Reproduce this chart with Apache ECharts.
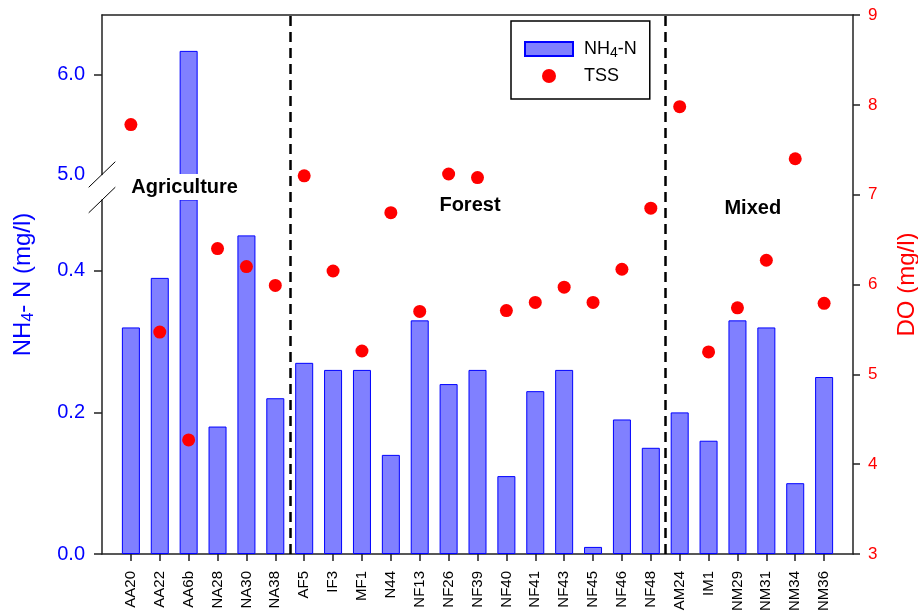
<!DOCTYPE html>
<html><head><meta charset="utf-8">
<script src="https://cdn.jsdelivr.net/npm/echarts@6/dist/echarts.min.js"></script>
<style>html,body{margin:0;padding:0;background:#fff}#c{width:918px;height:613px}</style>
</head><body><div id="c"></div>
<script>
// ---- data ----
const categories = ['AA20','AA22','AA6b','NA28','NA30','NA38','AF5','IF3','MF1','N44','NF13','NF26','NF39','NF40','NF41','NF43','NF45','NF46','NF48','AM24','IM1','NM29','NM31','NM34','NM36'];
const nh4 = [0.32,0.39,6.24,0.18,0.45,0.22,0.27,0.26,0.26,0.14,0.33,0.24,0.26,0.11,0.23,0.26,0.01,0.19,0.15,0.20,0.16,0.33,0.32,0.10,0.25];
const dissolvedO2 = [7.78,5.47,4.27,6.40,6.20,5.99,7.21,6.15,5.26,6.80,5.70,7.23,7.19,5.71,5.80,5.97,5.80,6.17,6.85,7.98,5.25,5.74,6.27,7.40,5.79];
const groupNames = ['Agriculture','Forest','Mixed'];
const groupSizes = [6, 13, 6];
const lowerTicks = [0, 0.2, 0.4];
const upperTicks = [5.0, 6.0];
const doMin = 3, doMax = 9;

const FONT = '"Liberation Sans", Arial, sans-serif';
const AX = {color:'#222', width:1.5};
const positions = categories.map((c,i)=>i+1);
const barData = nh4.map((v,i)=>[i+1, v]);
const doData = dissolvedO2.map((v,i)=>[i+1, v]);
const boundaries = [];
let acc = 0;
for (let i=0;i<groupSizes.length-1;i++){ acc += groupSizes[i]; boundaries.push(acc+0.5); }

const chart = echarts.init(document.getElementById('c'), null, {renderer:'canvas'});
const barStyle = {color:'#8080FF', borderColor:'#0000FF', borderWidth:1};

chart.setOption({
  animation:false,
  textStyle:{fontFamily:FONT},
  grid:[
    {left:102, right:65, top:200, bottom:59, outerBoundsMode:'none', containLabel:false},
    {left:102, right:65, top:15, height:159.5, outerBoundsMode:'none', containLabel:false},
    {left:102, right:65, top:15, bottom:59, outerBoundsMode:'none', containLabel:false}
  ],
  legend:{
    left:511, top:21, orient:'vertical', itemWidth:48, itemHeight:14, itemGap:1,
    padding:[15,13,10,13], borderColor:'#000', borderWidth:1.5,
    textStyle:{fontSize:18, color:'#000', fontFamily:FONT, lineHeight:26, padding:[0,0,0,6],
      rich:{sub:{fontSize:14, fontFamily:FONT, color:'#000', lineHeight:26, padding:[9,0,0,0]}}},
    formatter:n => n==='NH4-N' ? 'NH{sub|4}-N' : n,
    data:[{name:'NH4-N', icon:'rect'},{name:'TSS', icon:'circle'}]
  },
  xAxis:[
    {type:'value', gridIndex:0, min:0, max:26, position:'bottom',
     axisLine:{show:true, onZero:false, lineStyle:AX},
     axisTick:{show:true, customValues:positions, length:7, lineStyle:AX},
     axisLabel:{customValues:positions, formatter:v=>categories[Math.round(v)-1]||'', rotate:90,
       fontSize:15, color:'#000', margin:17, fontFamily:FONT},
     splitLine:{show:false}},
    {type:'value', gridIndex:1, min:0, max:26, show:false},
    {type:'value', gridIndex:2, min:0, max:26, position:'top',
     axisLine:{show:true, onZero:false, lineStyle:AX}, axisTick:{show:false}, axisLabel:{show:false}, splitLine:{show:false}}
  ],
  yAxis:[
    {type:'value', gridIndex:0, min:0, max:0.5,
     axisLine:{show:true, lineStyle:AX},
     axisTick:{show:true, customValues:lowerTicks, length:8, lineStyle:AX},
     axisLabel:{customValues:lowerTicks, formatter:v=>v.toFixed(1), color:'#0000FF', fontSize:20, margin:17, fontFamily:FONT},
     splitLine:{show:false}},
    {type:'value', gridIndex:1, min:5, max:6.6,
     axisLine:{show:true, lineStyle:AX},
     axisTick:{show:true, customValues:[upperTicks[1]], length:8, lineStyle:AX},
     axisLabel:{customValues:upperTicks, formatter:v=>v.toFixed(1), color:'#0000FF', fontSize:20, margin:17, fontFamily:FONT},
     splitLine:{show:false}},
    {type:'value', gridIndex:2, min:0, max:1, position:'left',
     axisLine:{show:false}, axisTick:{show:false}, axisLabel:{show:false}, splitLine:{show:false},
     name:'NH{sub|4}- N (mg/l)', nameLocation:'middle', nameRotate:90, nameGap:64,
     nameTextStyle:{color:'#0000FF', fontSize:24, fontFamily:FONT, lineHeight:30,
       rich:{sub:{fontSize:16, color:'#0000FF', fontFamily:FONT, lineHeight:30, padding:[12,0,0,0]}}}},
    {type:'value', gridIndex:2, min:doMin, max:doMax, interval:1, position:'right',
     axisLine:{show:true, lineStyle:AX},
     axisTick:{show:true, length:7, lineStyle:AX},
     axisLabel:{color:'#FF0000', fontSize:17, margin:15, fontFamily:FONT},
     splitLine:{show:false},
     name:'DO (mg/l)', nameLocation:'middle', nameRotate:90, nameGap:42,
     nameTextStyle:{color:'#FF0000', fontSize:24, fontFamily:FONT}}
  ],
  series:[
    {type:'bar', name:'NH4-N', xAxisIndex:0, yAxisIndex:0, data:barData, barWidth:18, clip:true, itemStyle:barStyle},
    {type:'bar', name:'NH4-N', xAxisIndex:1, yAxisIndex:1, data:barData, barWidth:18, clip:true, itemStyle:barStyle},
    {type:'scatter', name:'TSS', xAxisIndex:2, yAxisIndex:3, data:doData, symbolSize:13, z:5,
     itemStyle:{color:'#FF0000', opacity:1},
     markLine:{silent:true, symbol:['none','none'], label:{show:false},
       lineStyle:{color:'#000', type:[10,6], width:2.5},
       data:boundaries.map(b=>({xAxis:b}))}}
  ]
});

// break marks and group annotations
const pU = chart.convertToPixel({xAxisIndex:1, yAxisIndex:1}, [0, 5.0]);
const pL = chart.convertToPixel({xAxisIndex:0, yAxisIndex:0}, [0, 0.5]);
const brk = (p)=>({type:'line', z:100, shape:{x1:p[0]-13.3, y1:p[1]+12.8, x2:p[0]+13.3, y2:p[1]-12.8}, style:{stroke:'#000', lineWidth:1}});
const annPos = [[2.86, 7.085],[12.74, 6.885],[22.53, 6.85]];
const ann = groupNames.map((n,i)=>{
  const p = chart.convertToPixel({xAxisIndex:2, yAxisIndex:3}, annPos[i]);
  return {type:'text', z:100, x:p[0], y:p[1], style:{text:n, fill:'#000', font:'bold 20px '+FONT,
    align:'center', verticalAlign:'middle', backgroundColor: i===0?'#fff':'transparent', padding:[3,4,3,4]}};
});
chart.setOption({graphic:[brk(pU), brk(pL), ...ann]});
</script></body></html>
